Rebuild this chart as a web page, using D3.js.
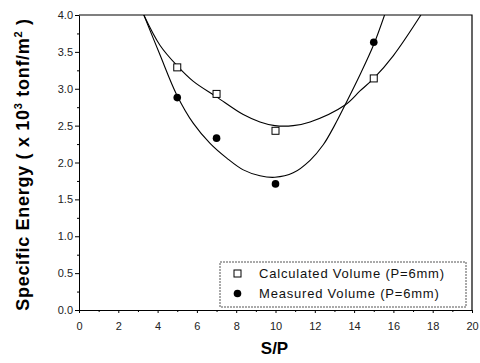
<!DOCTYPE html>
<html>
<head>
<meta charset="utf-8">
<script src="https://cdn.jsdelivr.net/npm/d3@7/dist/d3.min.js"></script>
<style>
  body { margin: 0; background: #fff; }
  svg { font-family: "Liberation Sans", Arial, sans-serif; }
</style>
</head>
<body>
<svg id="chart" width="480" height="363"></svg>
<script>
// measured / calculated points (S/P, specific energy x10^3 tonf/m^2)
const spValues = [5, 7, 10, 15];
const calculated = [3.29, 2.93, 2.43, 3.14];
const measured = [2.88, 2.33, 1.71, 3.63];

// fitted curves
const calcFitX = [3.3, 4.12, 5, 5.82, 7, 8.36, 9.21, 9.97, 10.9, 11.76, 13.54, 14.3, 15, 16, 17.4];
const calcFitY = [4.0, 3.59, 3.31, 3.1, 2.89, 2.65, 2.55, 2.5, 2.5, 2.55, 2.78, 2.97, 3.14, 3.45, 4.0];
const measFitX = [3.3, 4.12, 4.97, 5.82, 6.67, 7.52, 8.36, 9.21, 9.97, 10.9, 11.76, 12.43, 13, 13.54, 14.3, 15, 15.55];
const measFitY = [4.0, 3.46, 2.92, 2.53, 2.26, 2.06, 1.9, 1.82, 1.8, 1.86, 2.03, 2.24, 2.5, 2.78, 3.19, 3.6, 4.0];

const xTicks = d3.range(0, 21, 2);
const yTicks = d3.range(0, 4.01, 0.5);

const margin = { top: 15, right: 8, bottom: 53, left: 79 },
  width = 480 - margin.left - margin.right,
  height = 363 - margin.top - margin.bottom;

const x = d3.scaleLinear().domain([0, 20]).range([0, width]);
const y = d3.scaleLinear().domain([0, 4]).range([height, 0]);

const svg = d3.select("#chart")
  .append("g")
  .attr("transform", "translate(" + margin.left + "," + margin.top + ")");

svg.append("clipPath").attr("id", "clip")
  .append("rect").attr("width", width).attr("height", height);

// x axis, major + minor ticks
svg.append("g")
  .attr("transform", "translate(0," + height + ")")
  .call(d3.axisBottom(x).tickValues(d3.range(1, 20, 2)).tickSize(2).tickFormat(""))
  .call(g => g.select(".domain").remove());
const xAxis = svg.append("g")
  .attr("transform", "translate(0," + height + ")")
  .call(d3.axisBottom(x).tickValues(xTicks).tickSize(3).tickSizeOuter(0).tickFormat(d3.format("d")));
xAxis.selectAll("text").attr("dy", "1.25em").style("font-size", "11px").attr("fill", "#222");

// y axis
svg.append("g")
  .call(d3.axisLeft(y).tickValues(d3.range(0.25, 4, 0.5)).tickSize(2).tickFormat(""))
  .call(g => g.select(".domain").remove());
const yAxis = svg.append("g")
  .call(d3.axisLeft(y).tickValues(yTicks).tickSize(4).tickSizeOuter(0).tickFormat(d3.format(".1f")));
yAxis.selectAll("text").attr("x", -6).style("font-size", "11px").attr("fill", "#222");

// frame top/right
svg.append("path")
  .attr("d", "M0,0H" + width + "V" + height)
  .attr("fill", "none").attr("stroke", "#000").attr("stroke-width", 1.2);

// fitted curves
const line = d3.line().x(d => x(d[0])).y(d => y(d[1])).curve(d3.curveCatmullRom);
const plot = svg.append("g").attr("clip-path", "url(#clip)");
plot.append("path").datum(d3.zip(calcFitX, calcFitY))
  .attr("d", line).attr("fill", "none").attr("stroke", "#000").attr("stroke-width", 1.1);
plot.append("path").datum(d3.zip(measFitX, measFitY))
  .attr("d", line).attr("fill", "none").attr("stroke", "#000").attr("stroke-width", 1.1);

// points
svg.selectAll(".sq").data(d3.zip(spValues, calculated)).enter()
  .append("rect").attr("class", "sq")
  .attr("x", d => x(d[0]) - 3.5).attr("y", d => y(d[1]) - 3.5)
  .attr("width", 7).attr("height", 7)
  .attr("fill", "#fff").attr("stroke", "#000").attr("stroke-width", 1);
svg.selectAll(".dot").data(d3.zip(spValues, measured)).enter()
  .append("circle").attr("class", "dot")
  .attr("cx", d => x(d[0])).attr("cy", d => y(d[1])).attr("r", 3.8)
  .attr("fill", "#000");

// legend
const legend = svg.append("g").attr("transform", "translate(" + (220 - margin.left) + "," + (262 - margin.top) + ")");
legend.append("rect").attr("width", 246).attr("height", 45)
  .attr("fill", "#fff").attr("stroke", "#555").attr("stroke-dasharray", "2,1");
const legendItems = ["Calculated Volume (P=6mm)", "Measured Volume (P=6mm)"];
legendItems.forEach((t, i) => {
  const cy = 11.5 + i * 20;
  if (i === 0) {
    legend.append("rect").attr("x", 14).attr("y", cy - 3.5).attr("width", 7).attr("height", 7)
      .attr("fill", "#fff").attr("stroke", "#000");
  } else {
    legend.append("circle").attr("cx", 17.5).attr("cy", cy).attr("r", 3.8).attr("fill", "#000");
  }
  legend.append("text").attr("x", 39).attr("y", cy).attr("dy", "0.35em")
    .style("font-size", "13px").style("letter-spacing", "0.8px").attr("fill", "#111").text(t);
});

// axis titles
svg.append("text")
  .attr("x", width / 2 - 1).attr("y", height + 44)
  .attr("text-anchor", "middle").style("font-size", "17px").style("font-weight", "bold")
  .text("S/P");

const yt = svg.append("text")
  .attr("transform", "translate(" + (-50) + "," + (height / 2 + 2) + ") rotate(-90)")
  .attr("text-anchor", "middle").style("font-size", "18px").style("font-weight", "bold")
  .style("letter-spacing", "0.7px");
yt.append("tspan").text("Specific Energy ( x 10");
yt.append("tspan").attr("dy", -7).style("font-size", "11px").text("3");
yt.append("tspan").attr("dy", 7).text(" tonf/m");
yt.append("tspan").attr("dy", -7).style("font-size", "11px").text("2");
yt.append("tspan").attr("dy", 7).text(" )");
</script>
</body>
</html>
